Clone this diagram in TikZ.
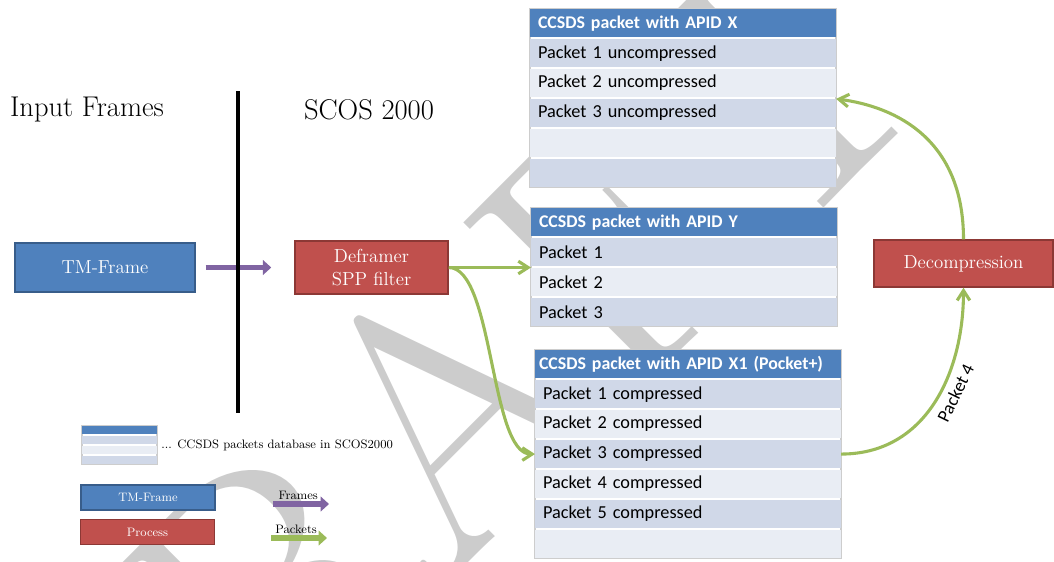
\documentclass[tikz,border=0pt]{standalone}
\usepackage{fontspec}
\newfontfamily\tabfont{Carlito}
\usetikzlibrary{arrows.meta, positioning}

\definecolor{tmblue}{RGB}{79,129,189}
\definecolor{tmline}{RGB}{56,93,138}
\definecolor{procred}{RGB}{192,80,77}
\definecolor{procline}{RGB}{140,56,53}
\definecolor{rowdark}{RGB}{208,216,232}
\definecolor{rowlight}{RGB}{233,237,244}
\definecolor{pktgreen}{RGB}{155,187,89}
\definecolor{frmpurple}{RGB}{128,100,162}
\definecolor{tabline}{RGB}{205,205,205}

\pgfdeclarelayer{wm}
\pgfdeclarelayer{bg}
\pgfsetlayers{wm,bg,main}

\tikzset{
  tmbox/.style={draw=tmline, fill=tmblue, text=white, line width=1pt, inner sep=0pt, align=center, font=\fontsize{13.4}{15.8}\selectfont},
  procbox/.style={tmbox, draw=procline, fill=procred},
  hdr/.style={fill=tmblue, text=white, font=\tabfont\fontsize{12.7}{15}\selectfont\bfseries, text width=7.25cm, inner xsep=0.2cm, inner ysep=0pt, minimum height=0.71cm, outer sep=0pt, align=left},
  rowd/.style={hdr, fill=rowdark, text=black, font=\tabfont\fontsize{13}{15}\selectfont},
  rowl/.style={rowd, fill=rowlight},
  minihdr/.style={fill=tmblue, minimum width=1.875cm, minimum height=0.2cm, inner sep=0pt, outer sep=0pt},
  minid/.style={minihdr, fill=rowdark},
  minil/.style={minihdr, fill=rowlight},
  tabframe/.style={draw=tabline, fill=white, line width=1pt},
  title/.style={font=\fontsize{20.3}{24}\selectfont, inner sep=0pt},
  small/.style={font=\fontsize{8.7}{10}\selectfont},
  frm/.style={draw=frmpurple, line width=3.9pt, -{Triangle[length=6pt,width=10.5pt]}},
  pktblock/.style={frm, draw=pktgreen},
  pkt/.style={draw=pktgreen, line width=2.2pt, -{Straight Barb[length=7pt,width=9pt]}}
}

\begin{document}
\begin{tikzpicture}[x=0.025cm, y=-0.025cm, node distance=1.1pt]

\useasboundingbox (0,0) rectangle (1054,561);

\begin{pgfonlayer}{wm}
\begin{scope}
\clip (0,0) rectangle (1054,561);
\node[anchor=base west, rotate=45, inner sep=0pt, text=black!20, font=\fontsize{255}{255}\selectfont] (draft) at (96,936) {DRAFT};
\end{scope}
\end{pgfonlayer}

\node[title] (inp) at (87,110) {Input Frames};
\node[title] (scos) at (369,110) {SCOS 2000};

\node[tmbox, minimum width=4.5cm, minimum height=1.225cm] (tm) at (105,267.5) {TM-Frame};
\node[procbox, minimum width=3.825cm, minimum height=1.325cm] (def) at (371.5,267.5) {Deframer\\SPP filter};
\node[procbox, minimum width=4.475cm, minimum height=1.175cm] (dec) at (963.5,263.5) {Decompression};

\node[hdr, anchor=north west] (xh) at (530,9) {CCSDS packet with APID X};
\node[rowd, below=of xh] (x1) {Packet 1 uncompressed};
\node[rowl, below=of x1] (x2) {Packet 2 uncompressed};
\node[rowd, below=of x2] (x3) {Packet 3 uncompressed};
\node[rowl, below=of x3] (x4) {};
\node[rowd, below=of x4] (x5) {};

\node[hdr, anchor=north west] (yh) at (531,208) {CCSDS packet with APID Y};
\node[rowd, below=of yh] (y1) {Packet 1};
\node[rowl, below=of y1] (y2) {Packet 2};
\node[rowd, below=of y2] (y3) {Packet 3};

\node[hdr, anchor=north west, text width=7.45cm, inner xsep=0.1cm] (ch) at (535,350) {CCSDS packet with APID X1 (Pocket+)};
\node[rowd, below=of ch] (c1) {Packet 1 compressed};
\node[rowl, below=of c1] (c2) {Packet 2 compressed};
\node[rowd, below=of c2] (c3) {Packet 3 compressed};
\node[rowl, below=of c3] (c4) {Packet 4 compressed};
\node[rowd, below=of c4] (c5) {Packet 5 compressed};
\node[rowl, below=of c5] (c6) {};

\node[minihdr] (lh) at (119.5,430) {};
\node[minid, below=1.4pt of lh] (l1) {};
\node[minil, below=1.4pt of l1] (l2) {};
\node[minid, below=1.4pt of l2] (l3) {};
\node[small, anchor=west, inner sep=0pt] (dbtxt) at (161,445) {... CCSDS packets database in SCOS2000};

\node[tmbox, small, minimum width=3.35cm, minimum height=0.625cm] (ltm) at (148,497.5) {TM-Frame};
\node[procbox, small, minimum width=3.35cm, minimum height=0.625cm] (lpr) at (147.5,532) {Process};

\begin{pgfonlayer}{bg}
\draw[tabframe] (xh.north west) rectangle (x5.south east);
\draw[tabframe] (yh.north west) rectangle (y3.south east);
\draw[tabframe] (ch.north west) rectangle (c6.south east);
\draw[tabframe] (lh.north west) rectangle (l3.south east);
\end{pgfonlayer}

\draw[frm, shorten <=0.25cm, shorten >=0.575cm] (tm) -- (def);

\coordinate (sep1) at (238,91);
\coordinate (sep2) at (238,413);
\draw[line width=2.2pt] (sep1) -- (sep2);

\draw[pkt] (def.east) -- (def.east -| yh.west);
\draw[pkt] (def.east) .. controls +(45,0) and +(-45,0) .. (c3.west);
\draw[pkt] (c3.east) .. controls +(85,0) and +(0,85) .. (dec.south)
  node[pos=0.58, sloped, below=1pt, font=\tabfont\fontsize{13}{15}\selectfont] {Packet 4};
\draw[pkt] (dec.north) .. controls +(0,-100) and +(60,8) .. (x3.north east);

\coordinate (fa) at (273,504);
\coordinate (fb) at (329,504);
\draw[frm] (fa) -- (fb) node[pos=0.45, above=1pt, small, inner sep=0pt] {Frames};
\coordinate (pa) at (271,538);
\coordinate (pb) at (327,538);
\draw[pktblock] (pa) -- (pb) node[pos=0.45, above=1pt, small, inner sep=0pt] {Packets};

\end{tikzpicture}
\end{document}
